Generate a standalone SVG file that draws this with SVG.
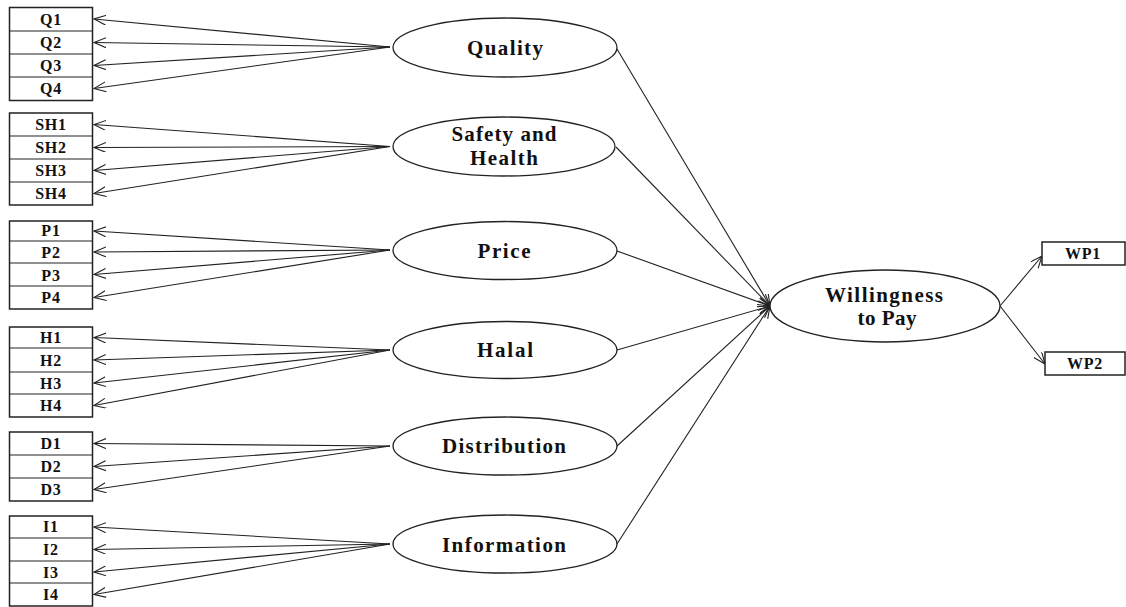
<svg xmlns="http://www.w3.org/2000/svg" width="1126" height="607" viewBox="0 0 1126 607">
<style>
.bx{fill:#fff;stroke:#222;stroke-width:1.5}
.rl{stroke:#222;stroke-width:1.2}
.el{fill:#fff;stroke:#222;stroke-width:1.3}
.c{stroke:#222;stroke-width:1.1;fill:none;marker-end:url(#ah)}
.bt{font-family:"Liberation Serif",serif;font-weight:bold;font-size:16px;fill:#111;text-anchor:middle;letter-spacing:0.8px}
.lt{font-family:"Liberation Serif",serif;font-weight:bold;font-size:21px;fill:#111;text-anchor:middle}
</style>
<defs>
<marker id="ah" markerUnits="userSpaceOnUse" markerWidth="14" markerHeight="12" refX="12" refY="5" orient="auto">
<path d="M0,0 L12,5 L0,10" fill="none" stroke="#222" stroke-width="1.1"/>
</marker>
</defs>
<rect width="1126" height="607" fill="#fff"/>

<g id="connectors">
<line class="c" x1="390" y1="47" x2="94" y2="19"/>
<line class="c" x1="390" y1="47" x2="94" y2="42.5"/>
<line class="c" x1="390" y1="47" x2="94" y2="65.5"/>
<line class="c" x1="390" y1="47" x2="94" y2="88.5"/>
<line class="c" x1="390" y1="146.5" x2="94" y2="124.5"/>
<line class="c" x1="390" y1="146.5" x2="94" y2="147.5"/>
<line class="c" x1="390" y1="146.5" x2="94" y2="170.5"/>
<line class="c" x1="390" y1="146.5" x2="94" y2="193.5"/>
<line class="c" x1="390" y1="250" x2="94" y2="231"/>
<line class="c" x1="390" y1="250" x2="94" y2="252"/>
<line class="c" x1="390" y1="250" x2="94" y2="274.5"/>
<line class="c" x1="390" y1="250" x2="94" y2="297.5"/>
<line class="c" x1="390" y1="350" x2="94" y2="337.5"/>
<line class="c" x1="390" y1="350" x2="94" y2="360"/>
<line class="c" x1="390" y1="350" x2="94" y2="383"/>
<line class="c" x1="390" y1="350" x2="94" y2="405.5"/>
<line class="c" x1="390" y1="446" x2="94" y2="443.5"/>
<line class="c" x1="390" y1="446" x2="94" y2="466.5"/>
<line class="c" x1="390" y1="446" x2="94" y2="489.5"/>
<line class="c" x1="390" y1="544" x2="94" y2="527"/>
<line class="c" x1="390" y1="544" x2="94" y2="549.5"/>
<line class="c" x1="390" y1="544" x2="94" y2="572"/>
<line class="c" x1="390" y1="544" x2="94" y2="594.5"/>
<line class="c" x1="617" y1="49" x2="770" y2="306"/>
<line class="c" x1="616" y1="147" x2="770" y2="306"/>
<line class="c" x1="617" y1="251" x2="770" y2="306"/>
<line class="c" x1="617" y1="350" x2="770" y2="306"/>
<line class="c" x1="617" y1="446" x2="770" y2="306"/>
<line class="c" x1="617" y1="544" x2="770" y2="306"/>
<line class="c" x1="1000" y1="306" x2="1042" y2="256"/>
<line class="c" x1="1000" y1="306" x2="1045" y2="364"/>
</g>

<g id="Q-indicators">
<rect class="bx" x="9.5" y="7.5" width="83" height="93"/>
<line class="rl" x1="9.5" y1="31" x2="92.5" y2="31"/>
<line class="rl" x1="9.5" y1="54" x2="92.5" y2="54"/>
<line class="rl" x1="9.5" y1="77" x2="92.5" y2="77"/>
<text class="bt" x="51" y="25">Q1</text>
<text class="bt" x="51" y="48">Q2</text>
<text class="bt" x="51" y="71">Q3</text>
<text class="bt" x="51" y="94">Q4</text>
</g>

<g id="SH-indicators">
<rect class="bx" x="9.5" y="113" width="83" height="92"/>
<line class="rl" x1="9.5" y1="136" x2="92.5" y2="136"/>
<line class="rl" x1="9.5" y1="159" x2="92.5" y2="159"/>
<line class="rl" x1="9.5" y1="182" x2="92.5" y2="182"/>
<text class="bt" x="51" y="130">SH1</text>
<text class="bt" x="51" y="153">SH2</text>
<text class="bt" x="51" y="176">SH3</text>
<text class="bt" x="51" y="199">SH4</text>
</g>

<g id="P-indicators">
<rect class="bx" x="9.5" y="221" width="83" height="88"/>
<line class="rl" x1="9.5" y1="241" x2="92.5" y2="241"/>
<line class="rl" x1="9.5" y1="263" x2="92.5" y2="263"/>
<line class="rl" x1="9.5" y1="286" x2="92.5" y2="286"/>
<text class="bt" x="51" y="236">P1</text>
<text class="bt" x="51" y="258">P2</text>
<text class="bt" x="51" y="281">P3</text>
<text class="bt" x="51" y="303">P4</text>
</g>

<g id="H-indicators">
<rect class="bx" x="9.5" y="327" width="83" height="90"/>
<line class="rl" x1="9.5" y1="348" x2="92.5" y2="348"/>
<line class="rl" x1="9.5" y1="372" x2="92.5" y2="372"/>
<line class="rl" x1="9.5" y1="394" x2="92.5" y2="394"/>
<text class="bt" x="51" y="343">H1</text>
<text class="bt" x="51" y="366">H2</text>
<text class="bt" x="51" y="389">H3</text>
<text class="bt" x="51" y="411">H4</text>
</g>

<g id="D-indicators">
<rect class="bx" x="9.5" y="432" width="83" height="69"/>
<line class="rl" x1="9.5" y1="455" x2="92.5" y2="455"/>
<line class="rl" x1="9.5" y1="478" x2="92.5" y2="478"/>
<text class="bt" x="51" y="449">D1</text>
<text class="bt" x="51" y="472">D2</text>
<text class="bt" x="51" y="495">D3</text>
</g>

<g id="I-indicators">
<rect class="bx" x="9.5" y="516" width="83" height="90"/>
<line class="rl" x1="9.5" y1="538" x2="92.5" y2="538"/>
<line class="rl" x1="9.5" y1="561" x2="92.5" y2="561"/>
<line class="rl" x1="9.5" y1="583" x2="92.5" y2="583"/>
<text class="bt" x="51" y="532">I1</text>
<text class="bt" x="51" y="555">I2</text>
<text class="bt" x="51" y="578">I3</text>
<text class="bt" x="51" y="600">I4</text>
</g>

<g id="quality">
<ellipse class="el" cx="505" cy="47.5" rx="112" ry="29.5"/>
<text class="lt" x="505" y="55" textLength="76" lengthAdjust="spacing">Quality</text>
</g>
<g id="safety-health">
<ellipse class="el" cx="504" cy="146.5" rx="111" ry="29.5"/>
<text class="lt" x="504" y="141" textLength="105" lengthAdjust="spacing">Safety and</text>
<text class="lt" x="504" y="165" textLength="68" lengthAdjust="spacing">Health</text>
</g>
<g id="price">
<ellipse class="el" cx="505" cy="250.5" rx="112" ry="29"/>
<text class="lt" x="504" y="258" textLength="53" lengthAdjust="spacing">Price</text>
</g>
<g id="halal">
<ellipse class="el" cx="505" cy="350" rx="112" ry="28.5"/>
<text class="lt" x="505" y="357" textLength="56" lengthAdjust="spacing">Halal</text>
</g>
<g id="distribution">
<ellipse class="el" cx="505" cy="446" rx="112" ry="29"/>
<text class="lt" x="504" y="453" textLength="124" lengthAdjust="spacing">Distribution</text>
</g>
<g id="information">
<ellipse class="el" cx="505" cy="544" rx="112" ry="29"/>
<text class="lt" x="504" y="552" textLength="124" lengthAdjust="spacing">Information</text>
</g>
<g id="willingness">
<ellipse class="el" cx="885" cy="306" rx="115" ry="36"/>
<text class="lt" x="884" y="302" textLength="118" lengthAdjust="spacing">Willingness</text>
<text class="lt" x="887" y="325" textLength="59" lengthAdjust="spacing">to Pay</text>
</g>
<g id="WP1">
<rect class="bx" x="1042" y="242" width="83" height="23"/>
<text class="bt" x="1083" y="259">WP1</text>
</g>
<g id="WP2">
<rect class="bx" x="1045" y="352" width="80" height="23"/>
<text class="bt" x="1085" y="369">WP2</text>
</g>
</svg>
